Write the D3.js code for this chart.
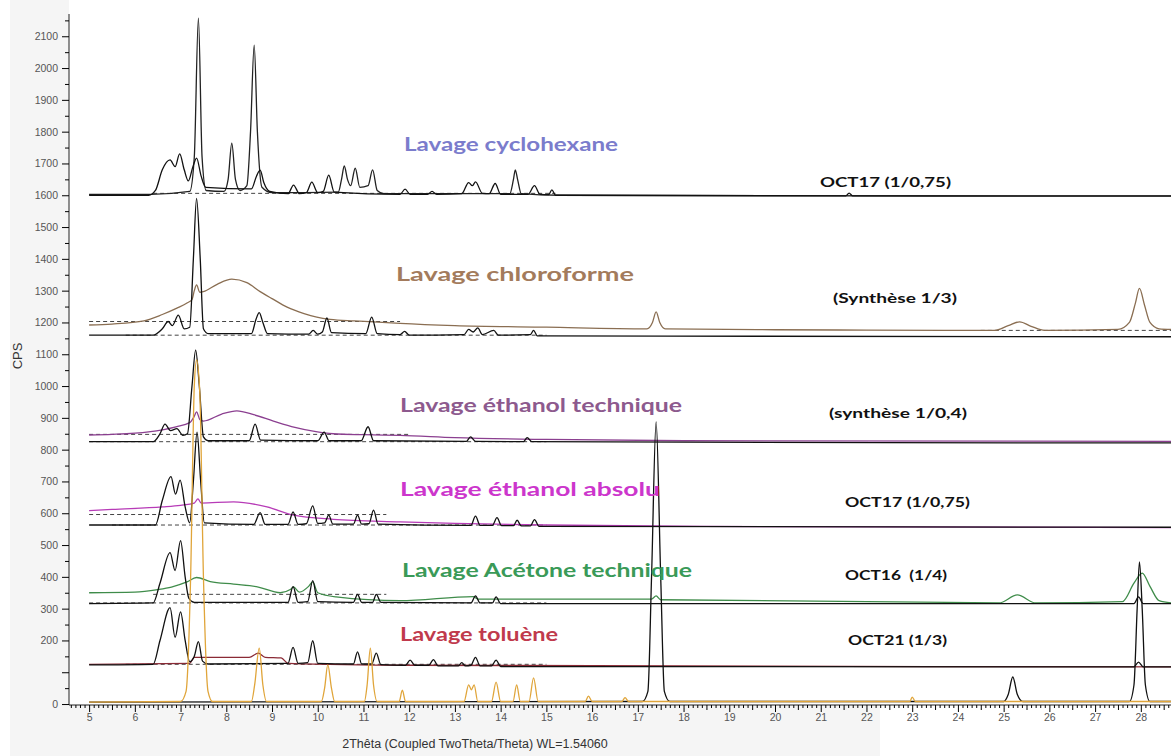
<!DOCTYPE html>
<html><head><meta charset="utf-8">
<script src="https://cdn.jsdelivr.net/npm/d3@7/dist/d3.min.js"></script>
<style>body{margin:0;background:#fff}svg{display:block}</style>
</head><body><svg id="c" width="1171" height="756"></svg>
<script>
// ---------- data (2θ, CPS) ----------
const yTickLabels = [0,200,300,400,500,600,700,800,900,1000,1100,1200,1300,1400,1500,1600,1700,1800,1900,2000,2100];
const xTickLabels = [5,6,7,8,9,10,11,12,13,14,15,16,17,18,19,20,21,22,23,24,25,26,27,28];

const cycloSample = [[5.0,1603],[6.35,1603],[7.2,1612],[7.3,1720],[7.39,2157],[7.47,1720],[7.56,1615],[7.95,1612],[8.04,1650],[8.12,1764],[8.2,1650],[8.3,1615],[8.45,1630],[8.53,1800],[8.61,2072],[8.68,1800],[8.78,1625],[9.0,1608],[10.45,1610],[10.52,1650],[10.58,1692],[10.65,1650],[10.72,1630],[10.82,1685],[10.92,1625],[11.1,1630],[11.2,1680],[11.3,1615],[11.45,1605],[14.2,1605],[14.28,1650],[14.32,1680],[14.37,1650],[14.45,1605],[15.3,1600],[28.66,1597]];
const cycloRef = [[5.0,1600],[6.3,1600],[6.45,1615],[6.6,1680],[6.77,1711],[6.88,1690],[6.98,1730],[7.08,1680],[7.17,1645],[7.27,1690],[7.35,1717],[7.45,1660],[7.55,1625],[8.55,1620],[8.66,1660],[8.74,1679],[8.82,1640],[8.95,1612],[9.35,1605],[9.47,1632],[9.6,1605],[9.75,1608],[9.87,1641],[10.0,1608],[10.12,1612],[10.24,1663],[10.36,1610],[11.8,1603],[11.91,1619],[12.02,1603],[12.4,1603],[12.5,1612],[12.6,1603],[13.15,1605],[13.3,1640],[13.38,1630],[13.45,1642],[13.6,1606],[13.75,1605],[13.88,1637],[14.0,1603],[14.6,1603],[14.74,1630],[14.86,1603],[15.05,1602],[15.12,1617],[15.2,1600],[21.55,1598],[21.62,1607],[21.7,1598],[28.66,1598]];

const chloroSample = [[5.0,1192],[5.5,1195],[6.2,1205],[6.6,1225],[6.92,1245],[7.15,1262],[7.25,1272],[7.3,1300],[7.35,1318],[7.42,1295],[7.5,1297],[7.8,1320],[8.12,1336],[8.45,1325],[8.74,1297],[9.0,1275],[9.33,1248],[9.7,1228],[9.98,1217],[10.27,1210],[10.8,1205],[11.22,1202],[11.8,1197],[13,1190],[15,1185],[17.2,1180],[17.32,1200],[17.4,1233],[17.48,1200],[17.6,1180],[20,1177],[22,1176],[24.8,1175],[25.1,1190],[25.35,1202],[25.6,1188],[25.9,1175],[27.5,1178],[27.75,1200],[27.88,1260],[27.97,1307],[28.08,1255],[28.2,1200],[28.4,1180],[28.66,1178]];
const chloroRef = [[5.0,1160],[6.4,1160],[6.6,1180],[6.73,1203],[6.82,1190],[6.95,1223],[7.08,1180],[7.2,1185],[7.28,1400],[7.35,1590],[7.43,1400],[7.5,1180],[7.6,1165],[8.55,1165],[8.65,1210],[8.72,1231],[8.8,1200],[8.9,1165],[9.8,1163],[9.9,1175],[10.0,1163],[10.1,1170],[10.2,1214],[10.3,1168],[11.05,1165],[11.18,1217],[11.3,1165],[11.8,1162],[11.9,1172],[12.0,1160],[13.2,1162],[13.3,1178],[13.4,1170],[13.5,1183],[13.6,1162],[13.85,1175],[13.95,1160],[14.65,1162],[14.72,1175],[14.8,1158],[28.66,1155]];

const ethTechSample = [[5.0,846],[5.5,848],[6.3,856],[6.9,872],[7.2,885],[7.3,905],[7.35,919],[7.42,895],[7.5,890],[7.9,912],[8.23,922],[8.6,910],[9.03,890],[9.5,870],[9.9,858],[10.34,850],[11.0,847],[11.8,845],[13,838],[15,832],[18,828],[28.66,826]];
const ethTechRef = [[5.0,825],[6.4,825],[6.55,850],[6.66,880],[6.78,860],[6.92,866],[7.05,845],[7.15,850],[7.25,1000],[7.33,1113],[7.41,1000],[7.5,840],[7.6,828],[8.5,828],[8.63,880],[8.75,830],[10.0,828],[10.14,855],[10.25,828],[10.95,828],[11.1,872],[11.22,828],[13.25,826],[13.34,840],[13.45,826],[14.5,825],[14.58,838],[14.68,825],[28.66,821]];

const ethAbsSample = [[5.0,608],[5.5,612],[6.6,620],[7.0,625],[7.3,632],[7.38,645],[7.45,632],[8.16,636],[8.89,620],[9.47,594],[10.34,581],[11.8,573],[13,568],[15,563],[20,558],[28.66,555]];
const ethAbsRef = [[5.0,563],[6.45,563],[6.6,640],[6.79,715],[6.89,660],[6.99,704],[7.1,620],[7.2,570],[7.28,700],[7.36,855],[7.44,700],[7.52,570],[8.6,565],[8.74,602],[8.85,565],[9.35,565],[9.46,604],[9.57,565],[9.75,567],[9.89,623],[10.0,568],[10.15,570],[10.24,594],[10.33,566],[10.78,566],[10.87,594],[10.96,566],[11.12,567],[11.22,610],[11.32,566],[13.35,562],[13.45,591],[13.55,562],[13.82,562],[13.92,586],[14.02,561],[14.28,561],[14.36,578],[14.45,560],[14.65,560],[14.74,580],[14.84,559],[28.66,556]];

const acetSample = [[5.0,350],[6.0,352],[6.5,360],[6.8,368],[7.14,384],[7.35,398],[7.65,385],[8.16,377],[8.7,368],[9.18,350],[9.4,360],[9.47,368],[9.6,352],[9.8,370],[9.89,384],[10.0,350],[10.4,337],[11.8,325],[13.4,338],[13.5,330],[17.3,330],[17.4,340],[17.5,328],[24.9,318],[25.3,343],[25.7,318],[27.6,322],[27.85,380],[28.03,412],[28.2,370],[28.4,325],[28.66,318]];
const acetRef = [[5.0,316],[6.4,318],[6.55,380],[6.77,476],[6.88,420],[7.0,514],[7.1,400],[7.18,333],[7.3,320],[9.35,320],[9.46,369],[9.57,320],[9.78,322],[9.89,388],[10.0,322],[10.78,320],[10.87,345],[10.96,320],[11.2,320],[11.28,345],[11.38,320],[13.35,318],[13.45,340],[13.55,318],[13.82,318],[13.9,337],[14.0,316],[27.85,316],[27.95,337],[28.05,316],[28.66,316]];

const tolSample = [[5.0,125],[7.2,128],[7.3,147],[8.5,147],[8.7,160],[8.85,147],[9.2,145],[9.35,128],[12,122],[28.66,117]];
const tolRef = [[5.0,123],[6.4,125],[6.55,200],[6.77,303],[6.88,210],[7.0,290],[7.1,200],[7.2,133],[7.3,150],[7.39,196],[7.48,135],[7.6,126],[9.35,128],[9.46,178],[9.57,128],[9.78,130],[9.89,199],[10.0,128],[10.78,126],[10.87,164],[10.96,126],[11.18,126],[11.28,160],[11.38,124],[11.92,122],[12.02,138],[12.12,122],[12.43,122],[12.53,140],[12.63,120],[13.07,120],[13.15,130],[13.23,120],[13.35,122],[13.45,147],[13.55,120],[13.8,120],[13.9,138],[14.0,118],[27.85,117],[27.95,132],[28.05,117],[28.66,117]];

const refOrange = [[5.0,6],[7.0,8],[7.12,40],[7.22,400],[7.3,1000],[7.35,1082],[7.42,980],[7.5,400],[7.6,40],[7.7,8],[8.55,8],[8.62,60],[8.72,176],[8.8,60],[8.88,8],[10.08,8],[10.15,50],[10.22,123],[10.3,50],[10.37,8],[11.02,8],[11.08,60],[11.15,176],[11.22,60],[11.3,8],[11.78,8],[11.85,44],[11.92,8],[13.2,8],[13.3,60],[13.36,45],[13.42,60],[13.5,8],[13.8,8],[13.9,69],[14.0,8],[14.27,8],[14.35,60],[14.43,8],[14.62,8],[14.72,82],[14.82,8],[15.85,8],[15.92,25],[16.0,8],[16.65,8],[16.72,20],[16.8,8],[22.95,8],[23.0,22],[23.07,8],[28.66,8]];
const refBlack = [[5.0,6],[17.1,8],[17.22,40],[17.3,400],[17.4,887],[17.5,400],[17.58,40],[17.7,8],[25.0,8],[25.1,30],[25.2,85],[25.3,30],[25.42,8],[27.75,8],[27.85,60],[27.92,300],[27.97,447],[28.03,300],[28.1,60],[28.2,8],[28.66,8]];

const dashedLines = [[[6.4,1606],[15.2,1606]],[[5.0,1203],[11.8,1203]],[[5.8,1160],[15,1160]],[[24.5,1175],[28.66,1175]],[[5.0,848],[12,848]],[[5.0,825],[15,825]],[[5.0,596],[11.5,596]],[[5.5,563],[15,563]],[[6.4,345],[11.5,345]],[[5.0,318],[15,318]],[[5.8,125],[15,125]]];

const sampleNames = ["Lavage cyclohexane","Lavage chloroforme","Lavage éthanol technique","Lavage éthanol absolu","Lavage Acétone technique","Lavage toluène"];
const refNames = ["OCT17 (1/0,75)","(Synthèse 1/3)","(synthèse 1/0,4)","OCT17 (1/0,75)","OCT16  (1/4)","OCT21 (1/3)"];

// ---------- layout ----------
const svg = d3.select("#c");
const W = 1171, H = 756;
const x = d3.scaleLinear().domain([4.56, 28.66]).range([69, 1171]);
const y = d3.scaleLinear().domain([-3, 2170]).range([705, 14]);

svg.append("rect").attr("x",10).attr("y",0).attr("width",59).attr("height",H).attr("fill","#f5f5f5");
svg.append("rect").attr("x",10).attr("y",705).attr("width",870).attr("height",51).attr("fill","#f5f5f5");
svg.append("rect").attr("x",69).attr("y",0).attr("width",W-69).attr("height",705).attr("fill","#fff");

const line = d3.line().x(d=>x(d[0])).y(d=>y(d[1])).curve(d3.curveMonotoneX);
const plot = svg.append("g");

// dashed backgrounds
dashedLines.forEach(dl=>{
  plot.append("path").attr("d", d3.line().x(d=>x(d[0])).y(d=>y(d[1]))(dl))
    .attr("fill","none").attr("stroke","#444").attr("stroke-width",1).attr("stroke-dasharray","4,3");
});

const traces = [
  [cycloSample,"#222"],[cycloRef,"#111"],
  [chloroSample,"#8a6e52"],[chloroRef,"#111"],
  [ethTechSample,"#8b3f90"],[ethTechRef,"#111"],
  [ethAbsSample,"#b73bb7"],[ethAbsRef,"#111"],
  [acetSample,"#3f8c4a"],[acetRef,"#111"],
  [tolSample,"#8a2a35"],[tolRef,"#111"],
  [refBlack,"#111"],[refOrange,"#e0a53a"]
];
traces.forEach(([data,col])=>{
  plot.append("path").attr("d", line(data)).attr("fill","none")
    .attr("stroke",col).attr("stroke-width",1.3).attr("stroke-linejoin","round");
});

// ---------- axes ----------
const yAxisG = svg.append("g").attr("transform","translate(69,0)");
yAxisG.call(d3.axisLeft(y).tickValues(d3.range(0,2151,50)).tickSize(3).tickFormat(""));
yAxisG.call(g=>g.selectAll(".tick line").attr("x2",d=>d%100===0?-7:-4));
const yLab = svg.append("g").attr("transform","translate(69,0)")
  .call(d3.axisLeft(y).tickValues(yTickLabels).tickSize(0).tickPadding(11).tickFormat(d3.format("d")));
yLab.select(".domain").remove();
yLab.selectAll("text").attr("font-family","Liberation Sans, Arial, sans-serif").attr("font-size",10.5).attr("fill","#555");
yAxisG.select(".domain").attr("d","M0,14V705").attr("stroke","#222");

const xAxisG = svg.append("g").attr("transform","translate(0,705)");
xAxisG.call(d3.axisBottom(x).tickValues(d3.range(46,287).map(v=>v/10)).tickSize(3).tickFormat(""));
xAxisG.selectAll(".tick line").attr("y2",d=>Math.abs(d-Math.round(d))<1e-6?7:(Math.abs(d*2-Math.round(d*2))<1e-6?5:3));
xAxisG.select(".domain").attr("d","M69,0H1171").attr("stroke","#222");
const xLab = svg.append("g").attr("transform","translate(0,705)")
  .call(d3.axisBottom(x).tickValues(xTickLabels).tickSize(0).tickPadding(9).tickFormat(d3.format("d")));
xLab.select(".domain").remove();
xLab.selectAll("text").attr("font-family","Liberation Sans, Arial, sans-serif").attr("font-size",10.5).attr("fill","#555");

svg.append("text").attr("x",475).attr("y",748).attr("text-anchor","middle")
  .attr("font-family","Liberation Sans, Arial, sans-serif").attr("font-size",12.5).attr("fill","#333")
  .text("2Thêta (Coupled TwoTheta/Theta) WL=1.54060");
svg.append("text").attr("transform","translate(22,356) rotate(-90)").attr("text-anchor","middle")
  .attr("font-family","Liberation Sans, Arial, sans-serif").attr("font-size",13).attr("fill","#333").text("CPS");

// ---------- annotations ----------
const sampleCols = ["#7b7ccc","#a37b5c","#8d5a8e","#cc36cc","#3a9a58","#c03a4c"];
const samplePos = [[404,151,214],[396,281,238],[400,412,282],[400,496,260],[402,577,290],[400,641,158]];
sampleNames.forEach((t,i)=>{
  svg.append("text").attr("x",samplePos[i][0]).attr("y",samplePos[i][1])
    .attr("font-family","Lato, sans-serif").attr("font-weight","bold").attr("font-size",19)
    .attr("fill",sampleCols[i]).attr("textLength",samplePos[i][2]).attr("lengthAdjust","spacingAndGlyphs").text(t);
});
const refPos = [[820,187,131],[833,303,124],[829,418,138],[845,507,125],[845,580,102],[848,645,99]];
refNames.forEach((t,i)=>{
  svg.append("text").attr("x",refPos[i][0]).attr("y",refPos[i][1])
    .attr("font-family","Lato, sans-serif").attr("font-weight","bold").attr("font-size",14)
    .attr("fill","#111").attr("xml:space","preserve").style("white-space","pre")
    .attr("textLength",refPos[i][2]).attr("lengthAdjust","spacingAndGlyphs").text(t);
});
</script></body></html>
